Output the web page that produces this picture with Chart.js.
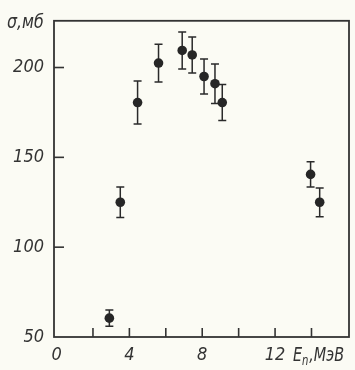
<!DOCTYPE html>
<html>
<head>
<meta charset="utf-8">
<script src="https://cdn.jsdelivr.net/npm/chart.js@4/dist/chart.umd.min.js"></script>
<style>
  html, body { margin: 0; padding: 0; background: #fbfbf4; }
  #wrap { width: 355px; height: 370px; }
</style>
</head>
<body>
<div id="wrap"><canvas id="c" width="355" height="370"></canvas></div>
<script>
// Neutron energy E_n (MeV)
const energy = [2.9, 3.5, 4.45, 5.6, 6.9, 7.45, 8.1, 8.7, 9.1, 13.95, 14.45];
// Cross section sigma (mb)
const sigma = [60.5, 125, 180.5, 202.5, 209.5, 207, 195, 191, 180.5, 140.5, 125];
// Error (+/- mb)
const sigmaErr = [4.5, 8.5, 12, 10.5, 10.3, 10, 9.8, 11, 10, 7, 8];
// Axis ticks
const xTicks = [0, 2, 4, 6, 8, 10, 12, 14];
const xTickLabels = ['0', '', '4', '', '8', '', '12', ''];
const yTicks = [50, 100, 150, 200];
const yTickLabels = ['50', '100', '150', '200'];
const yTitle = 'σ,мб';
const xTitleMain = 'E';
const xTitleSub = 'n';
const xTitleRest = ',МэВ';

const INK = '#333333';
const FONT = "'Liberation Sans Narrow', 'DejaVu Sans Condensed', 'Liberation Sans', sans-serif";

const decor = {
  id: 'decor',
  beforeDatasetsDraw(chart) {
    const ctx = chart.ctx;
    const xs = chart.scales.x, ys = chart.scales.y;
    const a = chart.chartArea;
    ctx.save();
    // frame
    ctx.strokeStyle = INK;
    ctx.lineWidth = 1.8;
    ctx.strokeRect(a.left, a.top, a.right - a.left, a.bottom - a.top);
    // inward ticks
    ctx.lineWidth = 1.6;
    xTicks.forEach(v => {
      if (v === 0) return;
      const px = xs.getPixelForValue(v);
      ctx.beginPath(); ctx.moveTo(px, a.bottom); ctx.lineTo(px, a.bottom - 9); ctx.stroke();
    });
    yTicks.forEach(v => {
      if (v === 50) return;
      const py = ys.getPixelForValue(v);
      ctx.beginPath(); ctx.moveTo(a.left, py); ctx.lineTo(a.left + 10, py); ctx.stroke();
    });
    // error bars
    ctx.strokeStyle = '#2a2a2a';
    ctx.lineWidth = 1.5;
    energy.forEach((e, i) => {
      const px = xs.getPixelForValue(e);
      const pt = ys.getPixelForValue(sigma[i] + sigmaErr[i]);
      const pb = ys.getPixelForValue(sigma[i] - sigmaErr[i]);
      ctx.beginPath();
      ctx.moveTo(px, pt); ctx.lineTo(px, pb);
      ctx.moveTo(px - 4, pt); ctx.lineTo(px + 4, pt);
      ctx.moveTo(px - 4, pb); ctx.lineTo(px + 4, pb);
      ctx.stroke();
    });
    ctx.restore();
  },
  afterDraw(chart) {
    const ctx = chart.ctx;
    ctx.save();
    ctx.fillStyle = INK;
    ctx.textBaseline = 'middle';
    ctx.textAlign = 'left';
    // y title (condensed)
    ctx.save();
    ctx.translate(7, 23);
    ctx.scale(0.88, 1);
    ctx.font = 'italic 20px ' + FONT;
    ctx.fillText(yTitle, 0, 0);
    ctx.restore();
    // x title with subscript (condensed)
    ctx.save();
    ctx.translate(293, 356);
    ctx.scale(0.8, 1);
    let x = 0;
    ctx.font = 'italic 20px ' + FONT;
    ctx.fillText(xTitleMain, x, 0);
    x += ctx.measureText(xTitleMain).width;
    ctx.font = 'italic 14px ' + FONT;
    ctx.fillText(xTitleSub, x, 5);
    x += ctx.measureText(xTitleSub).width + 1;
    ctx.font = 'italic 20px ' + FONT;
    ctx.fillText(xTitleRest, x, 0);
    ctx.restore();
    ctx.restore();
  }
};

new Chart(document.getElementById('c'), {
  type: 'scatter',
  data: {
    datasets: [{
      data: energy.map((e, i) => ({ x: e, y: sigma[i] })),
      pointRadius: 4.8,
      pointHoverRadius: 4.8,
      pointBackgroundColor: '#262626',
      pointBorderColor: '#262626',
      borderWidth: 0
    }]
  },
  options: {
    responsive: false,
    animation: false,
    events: [],
    layout: { padding: { top: 15, right: 6, left: 0, bottom: 0 } },
    plugins: { legend: { display: false }, tooltip: { enabled: false } },
    scales: {
      x: {
        type: 'linear',
        min: -0.14,
        max: 16.06,
        afterBuildTicks: s => { s.ticks = xTicks.map(v => ({ value: v })); },
        afterFit: s => { s.height = 33; },
        grid: { display: false, drawTicks: false },
        border: { display: false },
        ticks: {
          padding: 8,
          color: INK,
          maxRotation: 0,
          autoSkip: false,
          font: { family: FONT, size: 18, style: 'italic' },
          callback: (v) => { const k = xTicks.indexOf(v); return k >= 0 ? xTickLabels[k] : ''; }
        }
      },
      y: {
        type: 'linear',
        min: 50,
        max: 226,
        afterBuildTicks: s => { s.ticks = yTicks.map(v => ({ value: v })); },
        afterFit: s => { s.width = 54; },
        grid: { display: false, drawTicks: false },
        border: { display: false },
        ticks: {
          padding: 10,
          color: INK,
          autoSkip: false,
          font: { family: FONT, size: 18, style: 'italic' },
          callback: (v) => { const k = yTicks.indexOf(v); return k >= 0 ? yTickLabels[k] : ''; }
        }
      }
    }
  },
  plugins: [decor]
});
</script>
</body>
</html>
